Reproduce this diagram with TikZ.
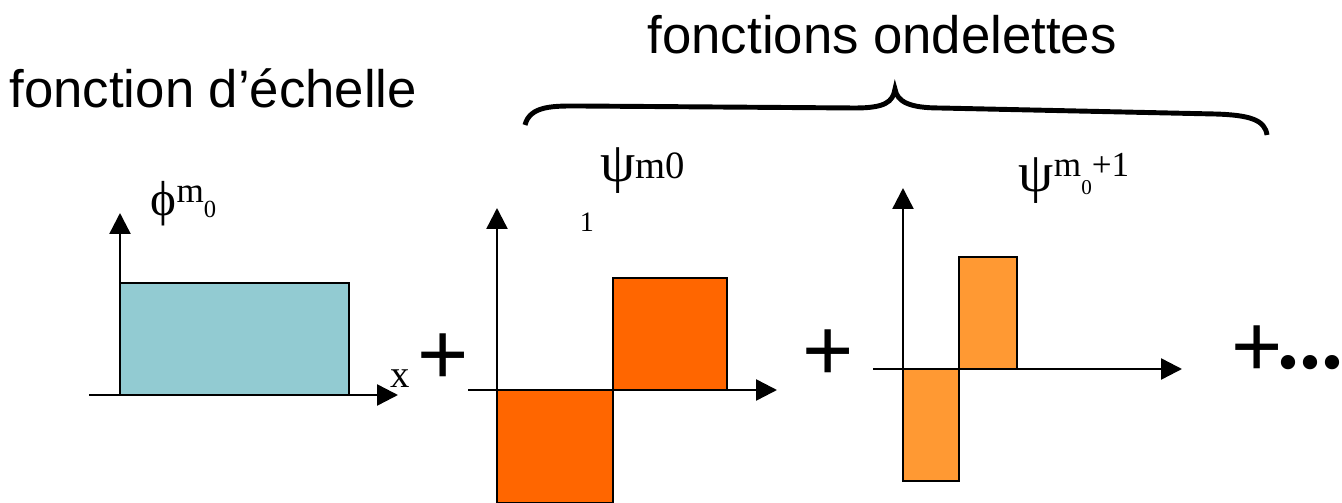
\documentclass[tikz,border=0pt]{standalone}
\usepackage{fontspec}
\setmainfont{Liberation Sans}
\newfontfamily\tms{Liberation Serif}
\usepackage{tikz}
\usetikzlibrary{arrows.meta}
\definecolor{scalecol}{RGB}{146,203,210}
\definecolor{wavecol}{RGB}{255,102,0}
\definecolor{finecol}{RGB}{255,153,51}
\newcommand{\fsz}[1]{\fontsize{#1}{#1}\selectfont}

\begin{document}
\begin{tikzpicture}[>={Triangle[length=0.21cm,width=0.21cm]},
  axis/.style={->,line width=0.7pt},
  bar/.style={draw,line width=0.6pt},
  title/.style={anchor=base west,inner sep=0pt,font=\fsz{15}},
  plus/.style={anchor=base,inner sep=0pt,font=\fsz{25}},
  fname/.style={anchor=base west,inner sep=0pt,font=\tms}]
  \useasboundingbox (0,0) rectangle (13.42,5.02);

  % Titles
  \node[title] (tscale) at (0.09,3.94) {fonction d’échelle};
  \node[title] (twave) at (6.47,4.48) {fonctions ondelettes};
  \draw[line width=1.4pt] (5.25,3.77) .. controls (5.3,3.97) and (5.55,3.96) .. (5.8,3.96)
    -- (8.55,3.94) .. controls (8.85,3.94) and (8.93,4.0) .. (8.95,4.13)
    .. controls (8.97,4.0) and (9.1,3.94) .. (9.4,3.94)
    -- (12.15,3.88) .. controls (12.5,3.87) and (12.65,3.82) .. (12.67,3.67);

  % Scaling function
  \coordinate (o1) at (1.20,1.07);
  \coordinate (y1) at (1.20,2.89);
  \coordinate (xa1) at (0.89,1.07);
  \coordinate (xb1) at (3.98,1.07);
  \draw[bar,fill=scalecol] (o1) rectangle (3.49,2.19);
  \draw[axis] (o1) -- (y1);
  \draw[axis] (xa1) -- (xb1);
  \node[fname] (phi) at (1.50,2.86)
    {\fsz{14}ϕ\raisebox{3.7pt}{\fsz{10}m\raisebox{-4pt}{\fsz{7}0}}};
  \node[anchor=base,inner sep=0pt,font=\tms\fsz{11}] (xlab) at (4.00,1.15) {x};
  \node[plus] (p1) at (4.43,1.18) {+};

  % First wavelet
  \coordinate (o2) at (4.97,1.12);
  \coordinate (y2) at (4.97,2.94);
  \coordinate (xa2) at (4.68,1.12);
  \coordinate (xb2) at (7.77,1.12);
  \draw[bar,fill=wavecol] (o2) rectangle (6.13,-0.01);
  \draw[bar,fill=wavecol] (6.13,1.12) rectangle (7.27,2.24);
  \draw[axis] (o2) -- (y2);
  \draw[axis] (xa2) -- (xb2);
  \node[fname] (psi) at (6.00,3.20)
    {\fsz{16}ψ\raisebox{1pt}{\fsz{11}m0}};
  \node[inner sep=0pt,font=\tms\fsz{8}] (one) at (5.87,2.80) {1};
  \node[plus] (p2) at (8.28,1.21) {+};

  % Second wavelet
  \coordinate (o3) at (9.03,1.33);
  \coordinate (y3) at (9.03,3.14);
  \coordinate (xa3) at (8.73,1.33);
  \coordinate (xb3) at (11.82,1.33);
  \draw[bar,fill=finecol] (o3) rectangle (9.59,0.21);
  \draw[bar,fill=finecol] (9.59,1.33) rectangle (10.17,2.45);
  \draw[axis] (o3) -- (y3);
  \draw[axis] (xa3) -- (xb3);
  \node[fname] (psinext) at (10.18,3.10)
    {\fsz{16}ψ\raisebox{4.3pt}{\fsz{10}m\raisebox{-5pt}{\fsz{6}0}+1}};
  \node[plus,anchor=base west] (p3) at (12.31,1.26)
    {+\kern-1.5pt\raisebox{2pt}{\tms\bfseries ...}};
\end{tikzpicture}
\end{document}
